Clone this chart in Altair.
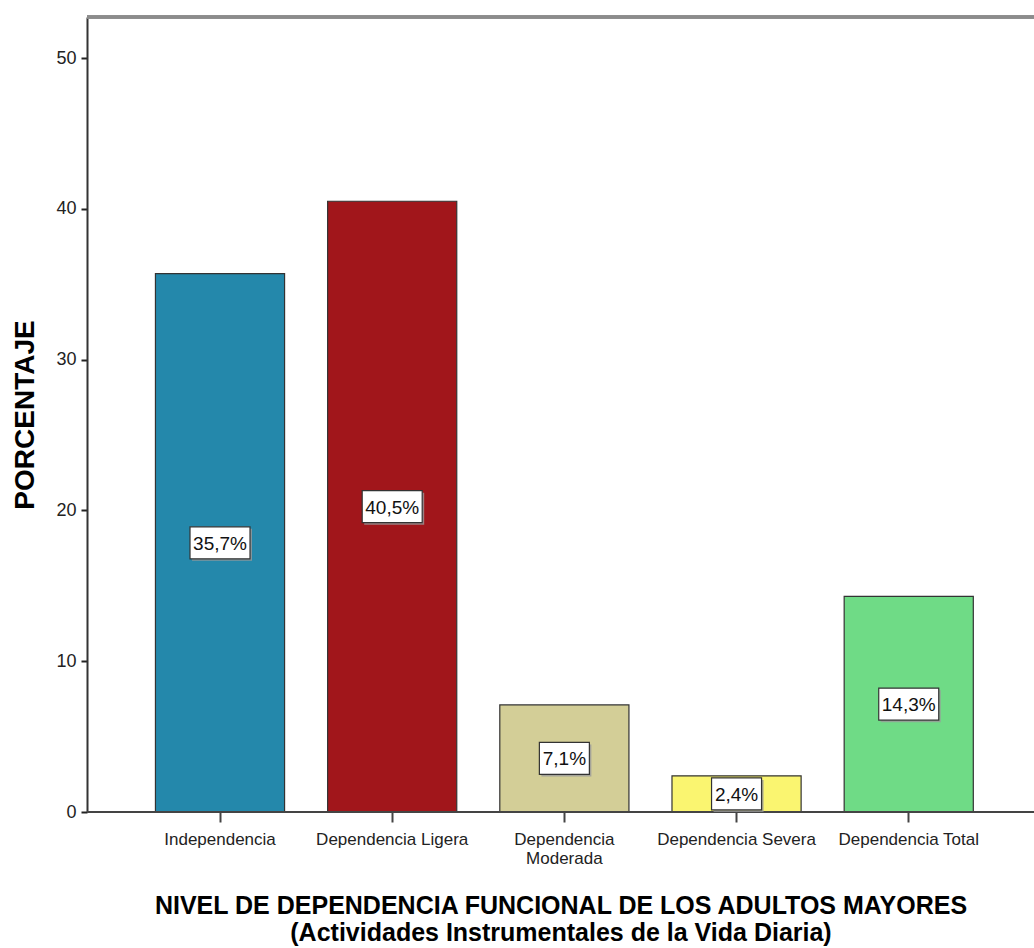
import altair as alt
import pandas as pd

categories = [
    "Independencia",
    "Dependencia Ligera",
    "Dependencia Moderada",
    "Dependencia Severa",
    "Dependencia Total",
]
porcentajes = [35.7, 40.5, 7.1, 2.4, 14.3]
etiquetas = ["35,7%", "40,5%", "7,1%", "2,4%", "14,3%"]
colores = ["#2488AB", "#A1161B", "#D3CE97", "#FAF570", "#6FDB86"]
y_ticks = [0, 10, 20, 30, 40, 50]

df = pd.DataFrame({"nivel": categories, "pct": porcentajes, "etiqueta": etiquetas})

W, H = 947, 795
FONT = "Liberation Sans"

x_enc = alt.X(
    "nivel:N",
    sort=categories,
    scale=alt.Scale(paddingInner=0.25, paddingOuter=0.375, align=0.53),
    axis=alt.Axis(
        title=[
            "NIVEL DE DEPENDENCIA FUNCIONAL DE LOS ADULTOS MAYORES",
            "(Actividades Instrumentales de la Vida Diaria)",
        ],
        titleFont=FONT,
        titleFontSize=25,
        titleFontWeight="bold",
        titleColor="#000",
        titleLineHeight=27,
        titlePadding=27,
        labelFont=FONT,
        labelFontSize=17,
        labelColor="#222",
        labelAngle=0,
        labelPadding=9,
        labelLineHeight=19,
        labelExpr="datum.label == 'Dependencia Moderada' ? ['Dependencia', 'Moderada'] : datum.label",
        tickSize=10,
        tickColor="#444",
        tickWidth=2,
        domain=False,
    ),
)

y_scale = alt.Scale(domain=[0, 52.72], nice=False, zero=True)

bars = alt.Chart(df).mark_bar(stroke="#333", strokeWidth=1.2).encode(
    x=x_enc,
    y=alt.Y(
        "pct:Q",
        scale=y_scale,
        axis=alt.Axis(
            title="PORCENTAJE",
            titleFont=FONT,
            titleFontSize=28,
            titleFontWeight="bold",
            titleColor="#000",
            titlePadding=16,
            values=y_ticks,
            labelFont=FONT,
            labelFontSize=18,
            labelColor="#222",
            labelPadding=5,
            tickSize=6,
            tickColor="#222",
            tickWidth=2,
            domainColor="#333",
            domainWidth=2,
            grid=False,
        ),
    ),
    color=alt.Color(
        "nivel:N", sort=categories, scale=alt.Scale(domain=categories, range=colores), legend=None
    ),
)

# label boxes centred at half the bar height
base_lbl = (
    alt.Chart(df)
    .transform_calculate(
        mid="datum.pct / 2",
        hw="length(datum.etiqueta) * 5 + 5",
    )
    .transform_calculate(
        box="'M' + (-datum.hw) + ',-16L' + datum.hw + ',-16L' + datum.hw + ',16L' + (-datum.hw) + ',16Z'"
    )
)

shadow = base_lbl.mark_point(
    filled=True, size=4, color="#9a9a9a", opacity=0.8, xOffset=2, yOffset=2
).encode(
    x=alt.X("nivel:N", sort=categories),
    y=alt.Y("mid:Q", scale=y_scale),
    shape=alt.Shape("box:N", scale=None),
)

boxes = base_lbl.mark_point(
    filled=True, size=4, fill="white", stroke="#333", strokeWidth=1.2, opacity=1
).encode(
    x=alt.X("nivel:N", sort=categories),
    y=alt.Y("mid:Q", scale=y_scale),
    shape=alt.Shape("box:N", scale=None),
)

texts = base_lbl.mark_text(
    font=FONT, fontSize=19, color="#111", baseline="middle", align="center", dy=1
).encode(
    x=alt.X("nivel:N", sort=categories),
    y=alt.Y("mid:Q", scale=y_scale),
    text="etiqueta:N",
)

top_line = alt.Chart(df).mark_rule(color="#8c8c8c", strokeWidth=3).encode(
    x=alt.value(0), x2=alt.value(W), y=alt.value(0)
)

bottom_line = alt.Chart(df).mark_rule(color="#444", strokeWidth=2).encode(
    x=alt.value(0), x2=alt.value(W), y=alt.value(H)
)

chart = (
    alt.layer(bars, bottom_line, shadow, boxes, texts, top_line)
    .properties(
        width=W,
        height=H,
        autosize=alt.AutoSizeParams(type="none"),
        padding={"left": 87, "top": 17, "right": 0, "bottom": 136},
    )
    .configure_view(stroke=None)
    .configure(background="white")
)

chart.save("out.html", embed_options={"renderer": "svg", "actions": False})
